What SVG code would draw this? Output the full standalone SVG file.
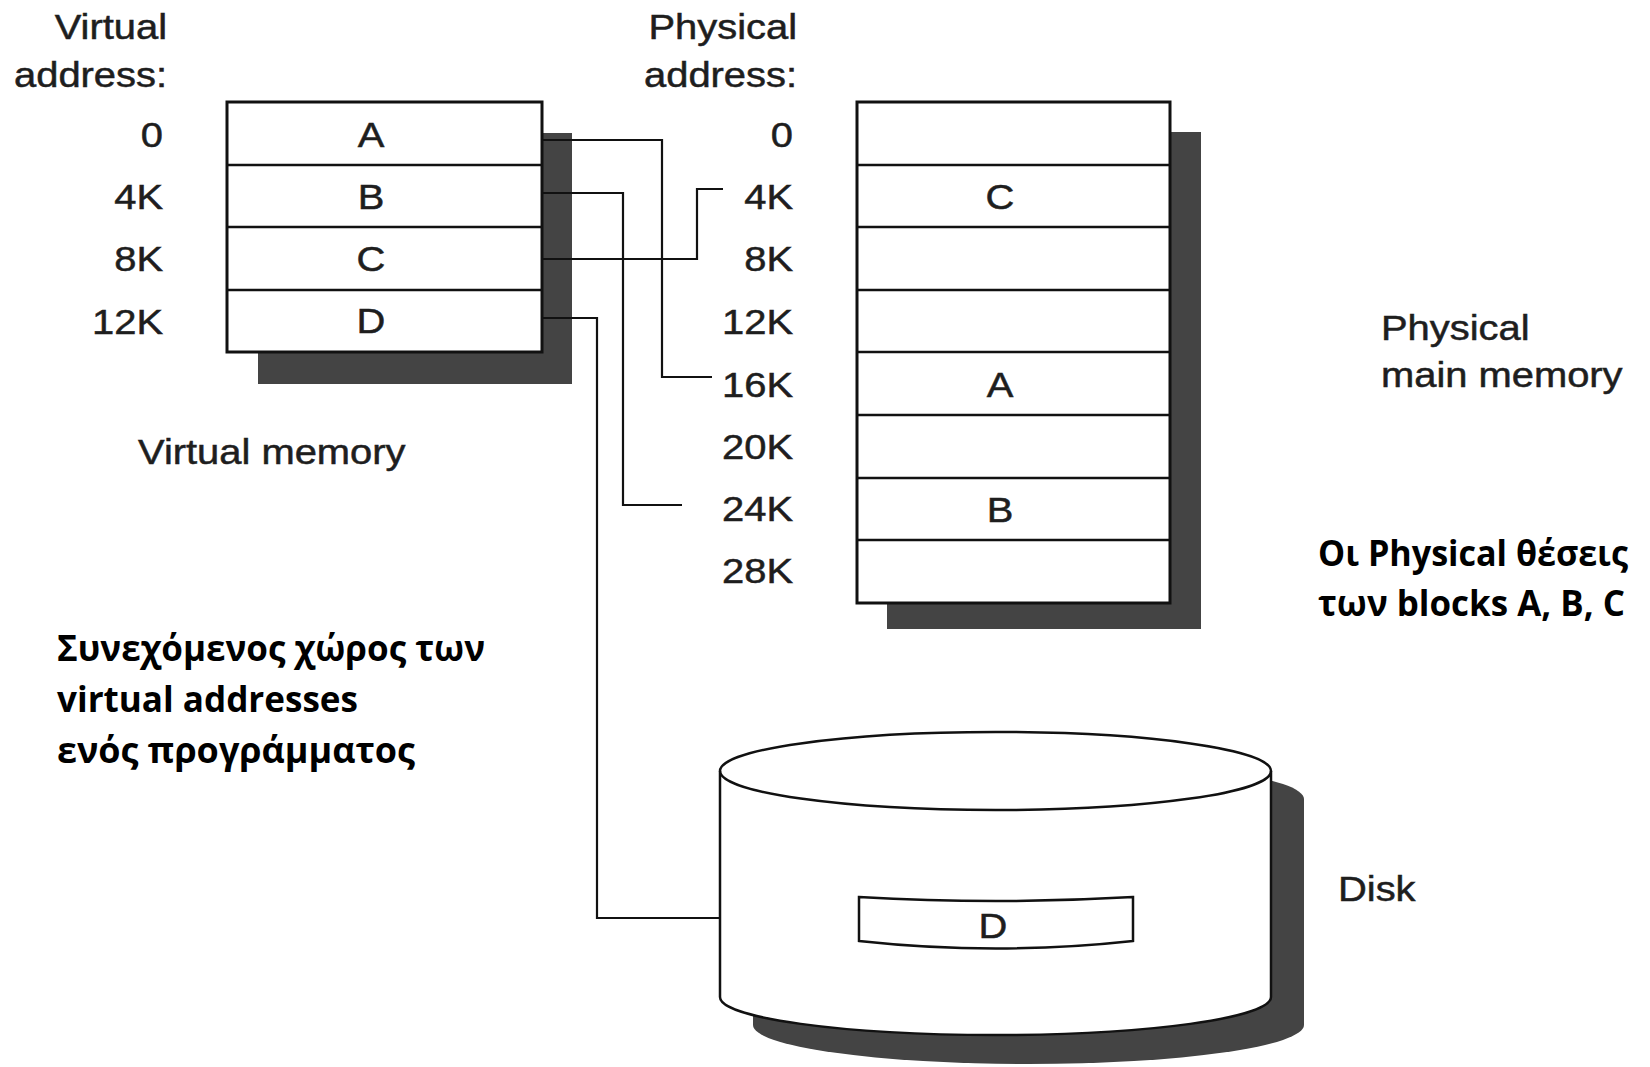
<svg xmlns="http://www.w3.org/2000/svg" width="1650" height="1067" viewBox="0 0 1650 1067">
<style>
.lbl { font-family: "Liberation Sans", Arial, sans-serif; font-size: 35px; fill: #1e1e1e; stroke: #1e1e1e; stroke-width: 0.5px; }
.end { text-anchor: end; }
.mid { text-anchor: middle; }
.gr { font-family: "Open Sans", "Noto Sans", sans-serif; font-weight: 700; font-size: 35px; fill: #000; }
.box { fill: #fff; stroke: #111; stroke-width: 3; }
.div { stroke: #111; stroke-width: 2.5; }
.shadow { fill: #444; }
.conn { fill: none; stroke: #111; stroke-width: 2.2; }
</style>
<rect width="1650" height="1067" fill="#fff"/>

<g id="virtual-address-labels">
  <text class="lbl end" transform="translate(167 39) scale(1.14 1)">Virtual</text>
  <text class="lbl end" transform="translate(167 87) scale(1.14 1)">address:</text>
  <text class="lbl end" transform="translate(163 147) scale(1.14 1)">0</text>
  <text class="lbl end" transform="translate(163 209) scale(1.14 1)">4K</text>
  <text class="lbl end" transform="translate(163 271) scale(1.14 1)">8K</text>
  <text class="lbl end" transform="translate(163 334) scale(1.14 1)">12K</text>
</g>

<g id="virtual-memory">
  <rect class="shadow" x="258" y="133" width="314" height="251"/>
  <rect class="box" x="227" y="102" width="315" height="250"/>
  <line class="div" x1="227" y1="165" x2="542" y2="165"/>
  <line class="div" x1="227" y1="227" x2="542" y2="227"/>
  <line class="div" x1="227" y1="290" x2="542" y2="290"/>
  <text class="lbl mid" transform="translate(371 147) scale(1.14 1)">A</text>
  <text class="lbl mid" transform="translate(371 209) scale(1.14 1)">B</text>
  <text class="lbl mid" transform="translate(371 271) scale(1.14 1)">C</text>
  <text class="lbl mid" transform="translate(371 333) scale(1.14 1)">D</text>
  <text class="lbl" transform="translate(138 464) scale(1.14 1)">Virtual memory</text>
</g>

<g id="physical-address-labels">
  <text class="lbl end" transform="translate(797 39) scale(1.14 1)">Physical</text>
  <text class="lbl end" transform="translate(797 87) scale(1.14 1)">address:</text>
  <text class="lbl end" transform="translate(793 147) scale(1.14 1)">0</text>
  <text class="lbl end" transform="translate(793 209) scale(1.14 1)">4K</text>
  <text class="lbl end" transform="translate(793 271) scale(1.14 1)">8K</text>
  <text class="lbl end" transform="translate(793 334) scale(1.14 1)">12K</text>
  <text class="lbl end" transform="translate(793 397) scale(1.14 1)">16K</text>
  <text class="lbl end" transform="translate(793 459) scale(1.14 1)">20K</text>
  <text class="lbl end" transform="translate(793 521) scale(1.14 1)">24K</text>
  <text class="lbl end" transform="translate(793 583) scale(1.14 1)">28K</text>
</g>

<g id="physical-memory">
  <rect class="shadow" x="887" y="132" width="314" height="497"/>
  <rect class="box" x="857" y="102" width="313" height="501"/>
  <line class="div" x1="857" y1="165" x2="1170" y2="165"/>
  <line class="div" x1="857" y1="227" x2="1170" y2="227"/>
  <line class="div" x1="857" y1="290" x2="1170" y2="290"/>
  <line class="div" x1="857" y1="352" x2="1170" y2="352"/>
  <line class="div" x1="857" y1="415" x2="1170" y2="415"/>
  <line class="div" x1="857" y1="478" x2="1170" y2="478"/>
  <line class="div" x1="857" y1="540" x2="1170" y2="540"/>
  <text class="lbl mid" transform="translate(1000 209) scale(1.14 1)">C</text>
  <text class="lbl mid" transform="translate(1000 397) scale(1.14 1)">A</text>
  <text class="lbl mid" transform="translate(1000 522) scale(1.14 1)">B</text>
  <text class="lbl" transform="translate(1381 340) scale(1.14 1)">Physical</text>
  <text class="lbl" transform="translate(1381 387) scale(1.14 1)">main memory</text>
</g>

<g id="disk">
  <path class="shadow" d="M753,799 A275.5,39 0 0 1 1304,799 L1304,1025 A275.5,39 0 0 1 753,1025 Z"/>
  <path d="M720,771 A275.5,39 0 0 1 1271,771 L1271,997 A275.5,38 0 0 1 720,997 Z" fill="#fff" stroke="#111" stroke-width="2.5"/>
  <path d="M720,771 A275.5,39 0 0 0 1271,771" fill="none" stroke="#111" stroke-width="2.5"/>
  <path d="M859,897 Q996,905 1133,897 L1133,941 Q996,956 859,941 Z" fill="#fff" stroke="#111" stroke-width="2.5"/>
  <text class="lbl mid" transform="translate(993 938) scale(1.14 1)">D</text>
  <text class="lbl" transform="translate(1338 901) scale(1.14 1)">Disk</text>
</g>

<g id="connectors">
  <polyline class="conn" points="542,140 662,140 662,377 712,377"/>
  <polyline class="conn" points="542,193 623,193 623,505 682,505"/>
  <polyline class="conn" points="542,259 697,259 697,189 723,189"/>
  <polyline class="conn" points="542,318 597,318 597,918 720,918"/>
</g>

<g id="note-virtual">
  <text class="gr" x="57" y="661" textLength="428" lengthAdjust="spacingAndGlyphs">Συνεχόμενος χώρος των</text>
  <text class="gr" x="57" y="712" textLength="301" lengthAdjust="spacingAndGlyphs">virtual addresses</text>
  <text class="gr" x="57" y="763" textLength="358" lengthAdjust="spacingAndGlyphs">ενός προγράμματος</text>
</g>

<g id="note-physical">
  <text class="gr" x="1318" y="566" textLength="310" lengthAdjust="spacingAndGlyphs">Οι Physical θέσεις</text>
  <text class="gr" x="1318" y="616" textLength="307" lengthAdjust="spacingAndGlyphs">των blocks A, B, C</text>
</g>
</svg>
